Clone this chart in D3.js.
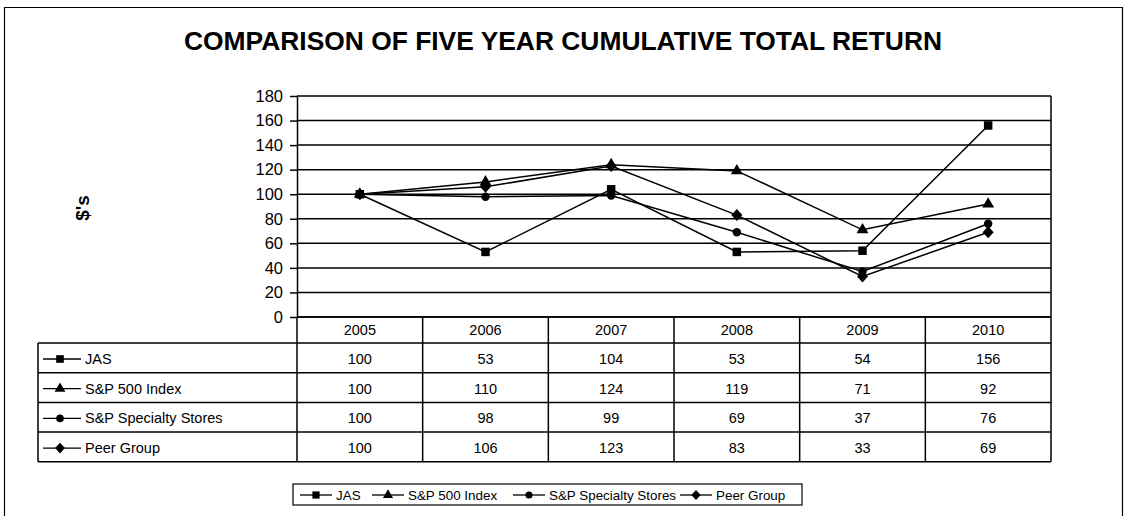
<!DOCTYPE html>
<html>
<head>
<meta charset="utf-8">
<script src="https://cdn.jsdelivr.net/npm/d3@7"></script>
<style>
  body { margin: 0; background: #fff; }
  svg text { font-family: "Liberation Sans", Arial, sans-serif; fill: #000; }
</style>
</head>
<body>
<svg id="chart"></svg>
<script>
// data
var years = ['2005', '2006', '2007', '2008', '2009', '2010'];
var seriesNames = ['JAS', 'S&P 500 Index', 'S&P Specialty Stores', 'Peer Group'];
var markers = ['square', 'triangle', 'circle', 'diamond'];
var jas = [100, 53, 104, 53, 54, 156];
var sp500 = [100, 110, 124, 119, 71, 92];
var spSpecialty = [100, 98, 99, 69, 37, 76];
var peerGroup = [100, 106, 123, 83, 33, 69];
var yTicks = [0, 20, 40, 60, 80, 100, 120, 140, 160, 180];

var allValues = [jas, sp500, spSpecialty, peerGroup];
var series = seriesNames.map(function(n, i) {
  return {name: n, marker: markers[i], values: allValues[i]};
});

var W = 1124, H = 516;
var plot = {left: 297, right: 1051, top: 96, bottom: 317};
var rowH = 29.7, headH = 26;
var tableLeft = 38;
var lw = 1.5;

var svg = d3.select('#chart').attr('width', W).attr('height', H);

// outer frame
svg.append('path')
  .attr('d', 'M4.5,520 V7.5 H1122.5 V520')
  .attr('fill', 'none').attr('stroke', '#000').attr('stroke-width', 1.2);

svg.append('text')
  .attr('x', 563).attr('y', 50)
  .attr('text-anchor', 'middle')
  .style('font-size', '26.4px').style('font-weight', 'bold')
  .text('COMPARISON OF FIVE YEAR CUMULATIVE TOTAL RETURN');

var x = d3.scaleBand().domain(years).range([plot.left, plot.right]);
var y = d3.scaleLinear().domain([0, 180]).range([plot.bottom, plot.top]);

// gridlines
svg.append('g').selectAll('line')
  .data(yTicks)
  .join('line')
  .attr('x1', plot.left).attr('x2', plot.right)
  .attr('y1', d => y(d)).attr('y2', d => y(d))
  .attr('stroke', '#000').attr('stroke-width', lw);

// y axis
var yAxis = d3.axisLeft(y).tickValues(yTicks).tickSize(7).tickPadding(7).tickSizeOuter(0);
var yAxisG = svg.append('g')
  .attr('transform', `translate(${plot.left},0)`)
  .call(yAxis);
yAxisG.select('.domain').attr('stroke', '#000').attr('stroke-width', lw);
yAxisG.selectAll('line').attr('stroke', '#000').attr('stroke-width', lw);
yAxisG.selectAll('text')
  .style('font-family', '"Liberation Sans", Arial, sans-serif')
  .style('font-size', '16.5px').attr('fill', '#000');

// right border of plot
svg.append('line')
  .attr('x1', plot.right).attr('x2', plot.right)
  .attr('y1', plot.top).attr('y2', plot.bottom)
  .attr('stroke', '#000').attr('stroke-width', lw);

svg.append('text')
  .attr('transform', 'translate(89,208) rotate(-90)')
  .attr('text-anchor', 'middle')
  .style('font-size', '19px').style('font-weight', 'bold')
  .text("$'s");

// marker shapes
function symbolFor(m) {
  if (m === 'square') return d3.symbol(d3.symbolSquare, 72)();
  if (m === 'triangle') return d3.symbol(d3.symbolTriangle, 62)();
  if (m === 'circle') return d3.symbol(d3.symbolCircle, 56)();
  return 'M0,-6L5.5,0L0,6L-5.5,0Z';
}

var cx = d => x(d) + x.bandwidth() / 2;
var line = d3.line()
  .x((v, i) => cx(years[i]))
  .y(v => y(v));

var sg = svg.append('g').selectAll('g')
  .data(series)
  .join('g');
sg.append('path')
  .attr('d', d => line(d.values))
  .attr('fill', 'none').attr('stroke', '#000').attr('stroke-width', 1.5);
sg.selectAll('path.mk')
  .data(d => d.values.map(v => ({v: v, m: d.marker})))
  .join('path')
  .attr('class', 'mk')
  .attr('d', (d) => symbolFor(d.m))
  .attr('transform', (d, i) => `translate(${cx(years[i])},${y(d.v)})`)
  .attr('fill', '#000');

// data table
var table = svg.append('g');
var tableBottom = plot.bottom + headH + rowH * series.length;
table.append('line')
  .attr('x1', plot.left).attr('x2', plot.right)
  .attr('y1', plot.bottom).attr('y2', plot.bottom)
  .attr('stroke', '#000').attr('stroke-width', lw);
table.selectAll('text.yr')
  .data(years)
  .join('text')
  .attr('class', 'yr')
  .attr('x', d => cx(d))
  .attr('y', plot.bottom + 18)
  .attr('text-anchor', 'middle')
  .style('font-size', '14.5px')
  .text(d => d);

// horizontal row lines
var rowY = d3.range(series.length + 1).map(i => plot.bottom + headH + i * rowH);
table.selectAll('line.row')
  .data(rowY)
  .join('line')
  .attr('class', 'row')
  .attr('x1', tableLeft).attr('x2', plot.right)
  .attr('y1', d => d).attr('y2', d => d)
  .attr('stroke', '#000').attr('stroke-width', lw);

// vertical column lines
var colX = years.map(d => x(d)).concat([plot.right]);
table.selectAll('line.col')
  .data(colX)
  .join('line')
  .attr('class', 'col')
  .attr('x1', d => d).attr('x2', d => d)
  .attr('y1', plot.bottom).attr('y2', tableBottom)
  .attr('stroke', '#000').attr('stroke-width', lw);
table.append('line')
  .attr('x1', tableLeft).attr('x2', tableLeft)
  .attr('y1', rowY[0]).attr('y2', tableBottom)
  .attr('stroke', '#000').attr('stroke-width', lw);

var rows = table.selectAll('g.r')
  .data(series)
  .join('g')
  .attr('class', 'r')
  .attr('transform', (d, i) => `translate(0,${rowY[i]})`);
rows.append('line')
  .attr('x1', tableLeft + 5).attr('x2', tableLeft + 43)
  .attr('y1', 16).attr('y2', 16)
  .attr('stroke', '#000').attr('stroke-width', 1.3);
rows.append('path')
  .attr('d', d => symbolFor(d.marker))
  .attr('transform', `translate(${tableLeft + 22},16) scale(0.9)`);
rows.append('text')
  .attr('x', tableLeft + 47).attr('y', 21)
  .style('font-size', '14.5px')
  .text(d => d.name);
rows.selectAll('text.v')
  .data(d => d.values)
  .join('text')
  .attr('class', 'v')
  .attr('x', (v, i) => cx(years[i]))
  .attr('y', 21)
  .attr('text-anchor', 'middle')
  .style('font-size', '14.5px')
  .text(v => v);

// legend at the bottom
var legend = svg.append('g').attr('transform', 'translate(293,484)');
legend.append('rect')
  .attr('x', 0).attr('y', 0).attr('width', 509).attr('height', 21)
  .attr('fill', 'none').attr('stroke', '#000').attr('stroke-width', 1.2);
var legendX = [7, 79, 220, 387];
var li = legend.selectAll('g.li')
  .data(series)
  .join('g')
  .attr('class', 'li')
  .attr('transform', (d, i) => `translate(${legendX[i]},11)`);
li.append('line')
  .attr('x1', 0).attr('x2', 32).attr('y1', 0).attr('y2', 0)
  .attr('stroke', '#000').attr('stroke-width', 1.3);
li.append('path')
  .attr('d', d => symbolFor(d.marker))
  .attr('transform', 'translate(16,0) scale(0.85)');
li.append('text')
  .attr('x', 36).attr('y', 5)
  .style('font-size', '13.4px')
  .text(d => d.name);
</script>
</body>
</html>
